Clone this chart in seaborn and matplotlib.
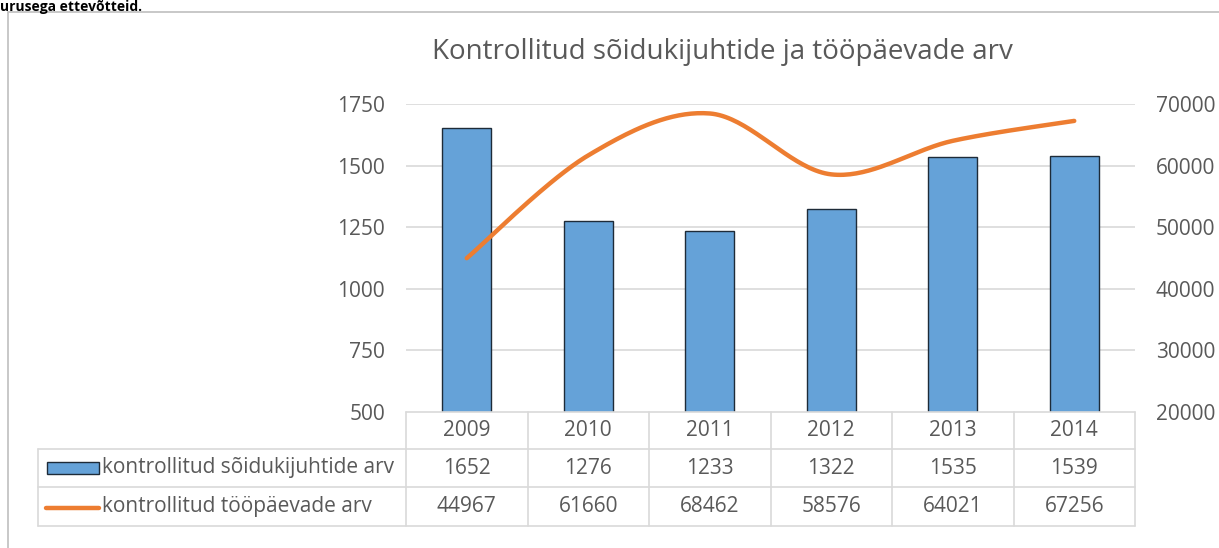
import numpy as np
import pandas as pd
import matplotlib
matplotlib.use("Agg")
import matplotlib.pyplot as plt
import seaborn as sns
from matplotlib.patches import Rectangle
from matplotlib.lines import Line2D

years = ["2009", "2010", "2011", "2012", "2013", "2014"]
drivers = [1652, 1276, 1233, 1322, 1535, 1539]
workdays = [44967, 61660, 68462, 58576, 64021, 67256]
series_names = ["kontrollitud sõidukijuhtide arv", "kontrollitud tööpäevade arv"]
title = "Kontrollitud sõidukijuhtide ja tööpäevade arv"
left_ticks = [500, 750, 1000, 1250, 1500, 1750]
right_ticks = [20000, 30000, 40000, 50000, 60000, 70000]
top_text = "urusega ettevõtteid."

sns.set_theme(style="white")
plt.rcParams['font.family'] = ['Open Sans', 'DejaVu Sans']

BLUE = "#65A2D8"
ORANGE = "#ED7D31"
GRAY = "#595959"
GRID = "#D9D9D9"
FS = 15

W, H = 1219, 548
fig = plt.figure(figsize=(W / 100, H / 100), dpi=100)

def fx(px):
    return px / W

def fy(py):
    return 1 - py / H

ax_l, ax_r, ax_t, ax_b = 406, 1135, 104, 412
ax = fig.add_axes([fx(ax_l), fy(ax_b), fx(ax_r - ax_l), fy(ax_t) - fy(ax_b)])

df = pd.DataFrame({"year": years, "drivers": drivers})
sns.barplot(data=df, x="year", y="drivers", ax=ax, color=BLUE, width=0.40,
            edgecolor="#1E2B38", linewidth=1.0, saturation=1, zorder=3)
ax.set_xlim(-0.5, len(years) - 0.5)
ax.set_ylim(500, 1750)
ax.set_yticks(left_ticks)
ax.set_yticklabels([str(t) for t in left_ticks], color=GRAY, fontsize=FS)
ax.tick_params(axis="y", length=0, pad=15)
ax.set_xticks([])
ax.set_xlabel("")
ax.set_ylabel("")
for s in ax.spines.values():
    s.set_visible(False)
for t in left_ticks[1:]:
    ax.axhline(t, color=GRID, lw=1.2, zorder=1)

ax2 = ax.twinx()
ax2.set_ylim(20000, 70000)
ax2.set_yticks(right_ticks)
ax2.set_yticklabels([str(t) for t in right_ticks], color=GRAY, fontsize=FS)
ax2.tick_params(axis="y", length=0, pad=15)
for s in ax2.spines.values():
    s.set_visible(False)

# Excel-like smoothed line (Catmull-Rom through the data points)
xp = np.arange(len(years), dtype=float)
yp = np.array(workdays, dtype=float)
xs, ys = [], []
n = len(xp)
for i in range(n - 1):
    p0 = np.array([xp[max(i - 1, 0)], yp[max(i - 1, 0)]])
    p1 = np.array([xp[i], yp[i]])
    p2 = np.array([xp[i + 1], yp[i + 1]])
    p3 = np.array([xp[min(i + 2, n - 1)], yp[min(i + 2, n - 1)]])
    c1 = p1 + (p2 - p0) / 6
    c2 = p2 - (p3 - p1) / 6
    t = np.linspace(0, 1, 40)[:, None]
    pts = (1 - t) ** 3 * p1 + 3 * (1 - t) ** 2 * t * c1 + 3 * (1 - t) * t ** 2 * c2 + t ** 3 * p2
    xs.extend(pts[:, 0])
    ys.extend(pts[:, 1])
ax2.plot(xs, ys, color=ORANGE, lw=3.2, solid_capstyle="round", zorder=4)
ax2.set_xlim(-0.5, len(years) - 0.5)

# Data table below the chart
tbl_left, tbl_right = 38, 1135
rows = [412, 449, 487, 526]
col_w = (ax_r - ax_l) / len(years)
lc = "#D9D9D9"
for i, y in enumerate(rows):
    x0 = ax_l if i == 0 else tbl_left
    fig.add_artist(Line2D([fx(x0), fx(tbl_right)], [fy(y), fy(y)], color=lc, lw=1.2))
for k in range(len(years) + 1):
    x = ax_l + k * col_w
    fig.add_artist(Line2D([fx(x), fx(x)], [fy(rows[0]), fy(rows[-1])], color=lc, lw=1.2))
fig.add_artist(Line2D([fx(tbl_left), fx(tbl_left)], [fy(rows[1]), fy(rows[-1])], color=lc, lw=1.2))

row_vals = [years, [str(v) for v in drivers], [str(v) for v in workdays]]
for r, vals in enumerate(row_vals):
    yc = (rows[r] + rows[r + 1]) / 2
    for k, v in enumerate(vals):
        fig.text(fx(ax_l + (k + 0.5) * col_w), fy(yc), v, ha="center", va="center",
                 color=GRAY, fontsize=FS)

# legend keys and names
y1 = (rows[1] + rows[2]) / 2
y2 = (rows[2] + rows[3]) / 2
fig.add_artist(Rectangle((fx(47), fy(y1 + 6)), fx(52), fy(y1 - 6) - fy(y1 + 6),
                         facecolor=BLUE, edgecolor="#1E2B38", lw=1.0))
fig.add_artist(Line2D([fx(46), fx(99)], [fy(y2 + 1), fy(y2 + 1)], color=ORANGE, lw=3.2,
                      solid_capstyle="round"))
fig.text(fx(102), fy(y1), series_names[0], ha="left", va="center", color=GRAY, fontsize=FS)
fig.text(fx(102), fy(y2), series_names[1], ha="left", va="center", color=GRAY, fontsize=FS)

# Title
fig.text(fx(722), fy(52), title, ha="center", va="center", color=GRAY, fontsize=20)

# Outer chart border
fig.add_artist(Line2D([fx(8), fx(W)], [fy(12), fy(12)], color="#BFBFBF", lw=1.2))
fig.add_artist(Line2D([fx(8), fx(8)], [fy(12), fy(H)], color="#BFBFBF", lw=1.2))

# Text above the chart (partly visible in the reference)
fig.text(fx(0), fy(0.5), top_text, ha="left", va="top", color="black",
         fontsize=10, fontweight="bold")

fig.savefig("out.png", dpi=100)
